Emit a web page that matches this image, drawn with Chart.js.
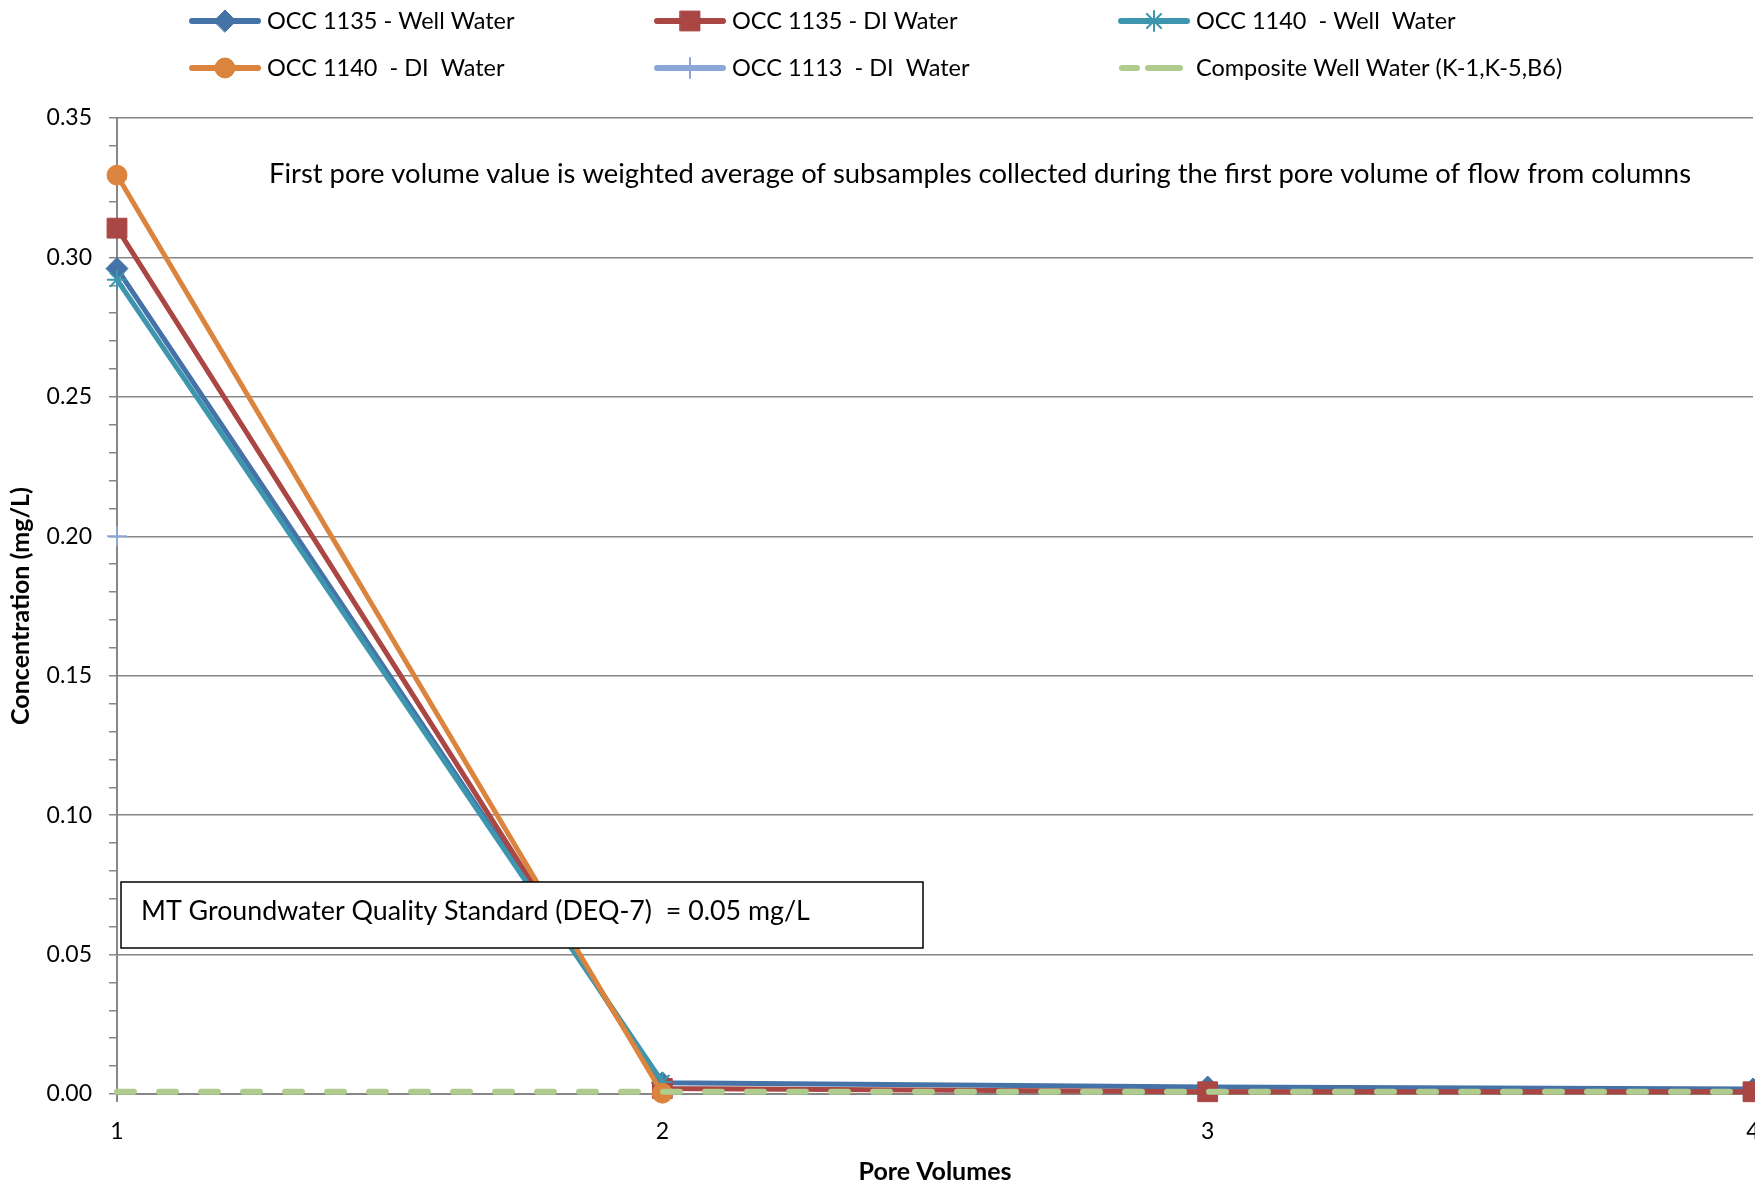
<!DOCTYPE html>
<html>
<head>
<meta charset="utf-8">
<script src="https://cdn.jsdelivr.net/npm/chart.js@4.4.1/dist/chart.umd.min.js"></script>
<style>
  html, body { margin: 0; padding: 0; background: #fff; overflow: hidden; }
  #chart { display: block; }
</style>
</head>
<body>
<canvas id="chart" width="1755" height="1184"></canvas>
<script>
// data
const poreVolumes = [1, 2, 3, 4];
const occ1135Well = [0.296, 0.004, 0.0025, 0.0018];
const occ1135DI = [0.3105, 0.002, 0.0008, 0.0008];
const occ1140Well = [0.292, 0.0043, null, null];
const occ1140DI = [0.3295, 0.0003, null, null];
const occ1113DI = [0.20, null, null, null];
const compositeWell = [0.0008, 0.0008, 0.0008, 0.0008];
const yLabelValues = [0, 0.05, 0.10, 0.15, 0.20, 0.25, 0.30, 0.35];

const seriesLabels = [
    'OCC 1135 - Well Water',
    'OCC 1135 - DI Water',
    'OCC 1140  - Well  Water',
    'OCC 1140  - DI  Water',
    'OCC 1113  - DI  Water',
    'Composite Well Water (K-1,K-5,B6)'
];
const noteText = 'First pore volume value is weighted average of subsamples collected during the first pore volume of flow from columns';
const standardText = 'MT Groundwater Quality Standard (DEQ-7)  = 0.05 mg/L';

const FONT = 'Lato, "Liberation Sans", sans-serif';
const AXIS_GRAY = '#868686';

function pts(values) {
    return poreVolumes.map((x, i) => ({ x: x, y: values[i] }));
}

function series(idx, values, color, style, radius, extra) {
    return Object.assign({
        label: seriesLabels[idx],
        data: pts(values),
        borderColor: color,
        backgroundColor: color,
        borderWidth: 5,
        pointStyle: style,
        pointRadius: radius,
        pointBackgroundColor: color,
        pointBorderColor: color,
        pointBorderWidth: 1,
        tension: 0,
        clip: false,
        order: 6 - idx
    }, extra || {});
}

const datasets = [
    series(0, occ1135Well, '#4572A7', 'rectRot', 11),
    series(1, occ1135DI, '#AA4643', 'rect', 14),
    series(2, occ1140Well, '#3D96AE', 'star', 10, { pointBorderWidth: 2 }),
    series(3, occ1140DI, '#DB843D', 'circle', 10),
    series(4, occ1113DI, '#8AA7D5', 'cross', 10, { pointBorderWidth: 2 }),
    series(5, compositeWell, '#B0CB8E', false, 0, {
        borderWidth: 6, borderDash: [17, 25], borderCapStyle: 'round', pointRadius: 0
    })
];

// legend + notes drawn by hand so they sit where the original has them
const extrasPlugin = {
    id: 'extras',
    afterDraw(chart) {
        const ctx = chart.ctx;
        const cols = [189, 654, 1118];
        const rows = [21, 68];
        ctx.save();
        datasets.forEach((ds, i) => {
            const x = cols[i % 3], y = rows[Math.floor(i / 3)];
            ctx.strokeStyle = ds.borderColor;
            ctx.fillStyle = ds.borderColor;
            ctx.lineCap = 'round';
            ctx.lineWidth = 6;
            ctx.beginPath();
            if (ds.borderDash) {
                ctx.moveTo(x + 4, y); ctx.lineTo(x + 19, y);
                ctx.moveTo(x + 30, y); ctx.lineTo(x + 62, y);
            } else {
                ctx.moveTo(x + 3, y); ctx.lineTo(x + 69, y);
            }
            ctx.stroke();
            if (ds.pointStyle) {
                ctx.lineWidth = ds.pointBorderWidth;
                Chart.helpers.drawPoint(ctx, {
                    pointStyle: ds.pointStyle,
                    radius: ds.pointRadius,
                    rotation: 0,
                    borderWidth: ds.pointBorderWidth
                }, x + 36, y);
            }
            ctx.fillStyle = '#000';
            ctx.font = '23.5px ' + FONT;
            ctx.textAlign = 'left';
            ctx.textBaseline = 'middle';
            ctx.fillText(ds.label, x + 78, y);
        });

        ctx.fillStyle = '#000';
        ctx.font = '27.4px ' + FONT;
        ctx.textAlign = 'left';
        ctx.textBaseline = 'middle';
        ctx.fillText(noteText, 269, 174);

        // standard box
        ctx.fillStyle = '#fff';
        ctx.fillRect(121, 882, 802, 66);
        ctx.strokeStyle = '#000';
        ctx.lineWidth = 1.5;
        ctx.strokeRect(121, 882, 802, 66);
        ctx.fillStyle = '#000';
        ctx.font = '26.8px ' + FONT;
        ctx.fillText(standardText, 141, 911);

        // axis titles
        ctx.font = 'bold 25px ' + FONT;
        ctx.textAlign = 'center';
        ctx.fillText('Pore Volumes', 935, 1172);
        ctx.translate(21, 606);
        ctx.rotate(-Math.PI / 2);
        ctx.fillText('Concentration (mg/L)', 0, 0);
        ctx.restore();
    }
};

new Chart(document.getElementById('chart'), {
    type: 'line',
    data: { datasets: datasets },
    options: {
        responsive: false,
        animation: false,
        layout: { autoPadding: false, padding: { top: 118, left: 0, right: 2, bottom: 0 } },
        plugins: {
            legend: { display: false },
            tooltip: { enabled: false }
        },
        scales: {
            x: {
                type: 'linear',
                min: 1,
                max: 4,
                afterFit: (scale) => {
                    scale.height = 90;
                    scale.paddingLeft = 0;
                    scale.paddingRight = 0;
                },
                ticks: {
                    stepSize: 1,
                    padding: 16,
                    color: '#000',
                    font: { family: FONT, size: 23 },
                    callback: (v) => String(v)
                },
                grid: {
                    drawOnChartArea: false,
                    tickLength: 8,
                    tickColor: AXIS_GRAY,
                    lineWidth: 2
                },
                border: { color: AXIS_GRAY, width: 2 }
            },
            y: {
                min: 0,
                max: 0.35,
                afterFit: (scale) => { scale.width = 117; },
                ticks: {
                    stepSize: 0.01,
                    autoSkip: false,
                    padding: 17,
                    color: '#000',
                    font: { family: FONT, size: 23 },
                    callback: (value) => {
                        const hit = yLabelValues.find(v => Math.abs(v - value) < 1e-6);
                        return hit === undefined ? '' : hit.toFixed(2);
                    }
                },
                grid: {
                    tickLength: 8,
                    lineWidth: 1.5,
                    tickColor: AXIS_GRAY,
                    color: (c) => {
                        const v = c.tick ? c.tick.value : 0;
                        const major = yLabelValues.some(m => Math.abs(m - v) < 1e-6);
                        return (major && v > 1e-6) ? AXIS_GRAY : 'rgba(0,0,0,0)';
                    }
                },
                border: { color: AXIS_GRAY, width: 2 }
            }
        }
    },
    plugins: [extrasPlugin]
});
</script>
</body>
</html>
